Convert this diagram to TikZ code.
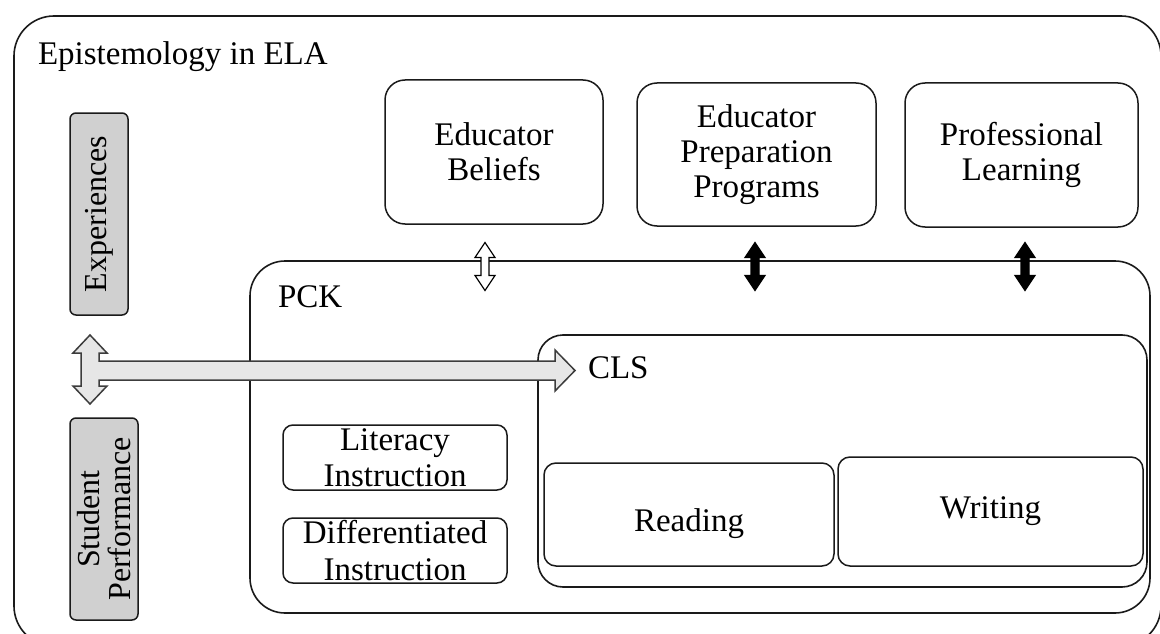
\documentclass[tikz,border=0pt]{standalone}
\usepackage{fontspec}
\setmainfont{Liberation Serif}
\definecolor{lineclr}{HTML}{1A1A1A}
\definecolor{grayfill}{HTML}{D0D0D0}
\definecolor{arrowfill}{HTML}{E6E6E6}
\begin{document}
\begin{tikzpicture}[x=1pt,y=-1pt,
  every node/.style={inner sep=0pt, outer sep=0pt},
  container/.style={draw=lineclr, line width=1.6pt, rounded corners=#1},
  titletext/.style={font=\fontsize{33}{35}\selectfont, anchor=base west},
  cbox/.style={draw=lineclr, line width=1.5pt, fill=white, align=center, rounded corners=#1, font=\fontsize{33}{35}\selectfont},
  sidebox/.style={draw=lineclr, line width=1.5pt, fill=grayfill, rounded corners=6pt, rotate=90, align=center},
  bigarrow/.style={draw=lineclr!85, line width=1.5pt, fill=arrowfill, line join=miter},
  smallarrow/.style={draw=black, line width=1.2pt, line join=miter},
  vdbl/.pic={\path[pic actions] (0,-24) -- (10,-9) -- (4,-9) -- (4,9) -- (10,9) -- (0,24) -- (-10,9) -- (-4,9) -- (-4,-9) -- (-10,-9) -- cycle;}
]
\useasboundingbox (0,0) rectangle (1160,634);
\fill[white] (0,0) rectangle (1160,634);

% outer container
\node[container=40pt, minimum width=1147pt, minimum height=630pt] (ela) at (587.5,331) {};
\node[titletext] (elatitle) at (38,65) {Epistemology in ELA};

% top boxes
\node[cbox=20pt, minimum width=218pt, minimum height=144pt] (beliefs) at (494,152) {Educator\\Beliefs};
\node[cbox=20pt, minimum width=239pt, minimum height=143pt] (epp) at (756.5,154.5) {Educator\\Preparation\\Programs};
\node[cbox=20pt, minimum width=233pt, minimum height=144pt] (pl) at (1021.5,155) {Professional\\Learning};

% PCK container
\node[container=35pt, minimum width=900pt, minimum height=352pt] (pck) at (700,437) {};
\node[titletext] (pcktitle) at (278,307) {PCK};

% CLS container
\node[container=25pt, minimum width=609pt, minimum height=252pt] (cls) at (842.5,461) {};
\node[titletext] (clstitle) at (588,378) {CLS};

% inner boxes
\node[cbox=12pt, minimum width=290pt, minimum height=103pt, text height=42pt] (reading) at (689,514.5) {Reading};
\node[cbox=12pt, minimum width=305pt, minimum height=109pt] (writing) at (990.5,511.5) {Writing};
\node[cbox=10pt, minimum width=224pt, minimum height=65pt, font=\fontsize{33}{36}\selectfont] (literacy) at (395,457.5) {Literacy\\Instruction};
\node[cbox=10pt, minimum width=224pt, minimum height=65pt, font=\fontsize{33}{37}\selectfont] (diff) at (395,550.5) {Differentiated\\Instruction};

% side boxes
\node[sidebox, minimum width=202pt, minimum height=58pt, font=\fontsize{32}{32}\selectfont] (exp) at (99,214) {Experiences};
\node[sidebox, minimum width=202pt, minimum height=68pt, font=\fontsize{32}{31}\selectfont] (perf) at (104,519) {Student\\Performance};

% small double arrows on PCK top edge
\pic[smallarrow, fill=white] at (485,266.5) {vdbl};
\pic[smallarrow, fill=black] at (755,266.5) {vdbl};
\pic[smallarrow, fill=black] at (1025,266.5) {vdbl};

% big T arrow
\draw[bigarrow] (90,335) -- (107,353) -- (99,353) -- (99,361) -- (555,361) -- (555,350) -- (575,370.5) -- (555,391) -- (555,380) -- (99,380) -- (99,386) -- (107,386) -- (90,404) -- (73,386) -- (81,386) -- (81,353) -- (73,353) -- cycle;
\end{tikzpicture}
\end{document}
